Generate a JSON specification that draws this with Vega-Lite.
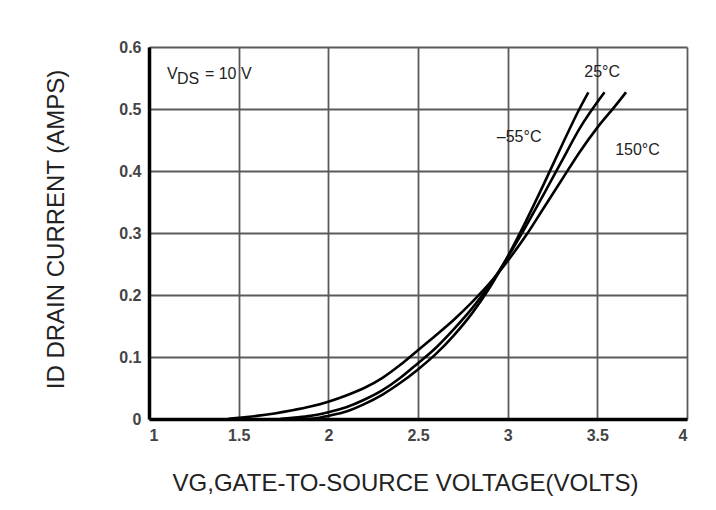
{
  "$schema": "https://vega.github.io/schema/vega-lite/v6.json",
  "width": 538,
  "height": 372,
  "autosize": {"type": "none"},
  "padding": {"left": 149, "top": 47, "right": 29, "bottom": 91},
  "background": "white",
  "config": {
    "view": {"stroke": null},
    "font": "Liberation Sans",
    "axis": {
      "grid": true,
      "gridColor": "#5a5a5a",
      "gridWidth": 1.8,
      "ticks": false,
      "titleFont": "Liberation Sans",
      "titleFontSize": 24,
      "titleFontWeight": "normal",
      "titleColor": "#222",
      "domainColor": "#000",
      "domainWidth": 3.5
    }
  },
  "datasets": {
    "curves": [
      {"temp": "-55", "vgs": 1.87, "id": 0.0},
      {"temp": "-55", "vgs": 1.95, "id": 0.002},
      {"temp": "-55", "vgs": 2.0, "id": 0.005},
      {"temp": "-55", "vgs": 2.1, "id": 0.012},
      {"temp": "-55", "vgs": 2.2, "id": 0.024},
      {"temp": "-55", "vgs": 2.3, "id": 0.039},
      {"temp": "-55", "vgs": 2.4, "id": 0.058},
      {"temp": "-55", "vgs": 2.5, "id": 0.08},
      {"temp": "-55", "vgs": 2.6, "id": 0.105},
      {"temp": "-55", "vgs": 2.7, "id": 0.135},
      {"temp": "-55", "vgs": 2.8, "id": 0.17},
      {"temp": "-55", "vgs": 2.9, "id": 0.212},
      {"temp": "-55", "vgs": 3.0, "id": 0.262},
      {"temp": "-55", "vgs": 3.1, "id": 0.318},
      {"temp": "-55", "vgs": 3.2, "id": 0.378},
      {"temp": "-55", "vgs": 3.3, "id": 0.44},
      {"temp": "-55", "vgs": 3.4, "id": 0.5},
      {"temp": "-55", "vgs": 3.45, "id": 0.527},
      {"temp": "25", "vgs": 1.73, "id": 0.0},
      {"temp": "25", "vgs": 1.8, "id": 0.002},
      {"temp": "25", "vgs": 1.9, "id": 0.005},
      {"temp": "25", "vgs": 2.0, "id": 0.011},
      {"temp": "25", "vgs": 2.1, "id": 0.019},
      {"temp": "25", "vgs": 2.2, "id": 0.031},
      {"temp": "25", "vgs": 2.3, "id": 0.046},
      {"temp": "25", "vgs": 2.4, "id": 0.066},
      {"temp": "25", "vgs": 2.5, "id": 0.09},
      {"temp": "25", "vgs": 2.6, "id": 0.115},
      {"temp": "25", "vgs": 2.7, "id": 0.145},
      {"temp": "25", "vgs": 2.8, "id": 0.178},
      {"temp": "25", "vgs": 2.9, "id": 0.216},
      {"temp": "25", "vgs": 3.0, "id": 0.261},
      {"temp": "25", "vgs": 3.1, "id": 0.31},
      {"temp": "25", "vgs": 3.2, "id": 0.362},
      {"temp": "25", "vgs": 3.3, "id": 0.415},
      {"temp": "25", "vgs": 3.4, "id": 0.468},
      {"temp": "25", "vgs": 3.54, "id": 0.527},
      {"temp": "150", "vgs": 1.44, "id": 0.0},
      {"temp": "150", "vgs": 1.5, "id": 0.002},
      {"temp": "150", "vgs": 1.6, "id": 0.005},
      {"temp": "150", "vgs": 1.7, "id": 0.009},
      {"temp": "150", "vgs": 1.8, "id": 0.014},
      {"temp": "150", "vgs": 1.9, "id": 0.02},
      {"temp": "150", "vgs": 2.0, "id": 0.028},
      {"temp": "150", "vgs": 2.1, "id": 0.038},
      {"temp": "150", "vgs": 2.2, "id": 0.05},
      {"temp": "150", "vgs": 2.3, "id": 0.066},
      {"temp": "150", "vgs": 2.4, "id": 0.087},
      {"temp": "150", "vgs": 2.5, "id": 0.111},
      {"temp": "150", "vgs": 2.6, "id": 0.135},
      {"temp": "150", "vgs": 2.7, "id": 0.16},
      {"temp": "150", "vgs": 2.8, "id": 0.188},
      {"temp": "150", "vgs": 2.9, "id": 0.219},
      {"temp": "150", "vgs": 3.0, "id": 0.255},
      {"temp": "150", "vgs": 3.1, "id": 0.295},
      {"temp": "150", "vgs": 3.2, "id": 0.34},
      {"temp": "150", "vgs": 3.3, "id": 0.385},
      {"temp": "150", "vgs": 3.4, "id": 0.43},
      {"temp": "150", "vgs": 3.5, "id": 0.47},
      {"temp": "150", "vgs": 3.6, "id": 0.505},
      {"temp": "150", "vgs": 3.66, "id": 0.527}
    ],
    "labels": [
      {"label": "25°C", "vgs": 3.527, "id": 0.56},
      {"label": "–55°C", "vgs": 3.064, "id": 0.4556},
      {"label": "150°C", "vgs": 3.724, "id": 0.434}
    ],
    "cond": [
      {"vgs": 1.1, "id": 0.5565}
    ]
  },
  "layer": [
    {
      "data": {"name": "curves"},
      "mark": {"type": "line", "interpolate": "monotone", "stroke": "#000", "strokeWidth": 2.6},
      "encoding": {
        "x": {
          "field": "vgs", "type": "quantitative",
          "scale": {"domain": [1, 4], "nice": false},
          "axis": {
            "values": [1, 1.5, 2, 2.5, 3, 3.5, 4],
            "format": "~g",
            "labelFont": "Liberation Sans",
            "labelFontSize": 16,
            "labelFontWeight": "bold",
            "labelColor": "#444",
            "labelPadding": 16,
            "labelBaseline": "middle",
            "title": "VG,GATE-TO-SOURCE VOLTAGE(VOLTS)",
            "titleX": 256,
            "titleY": 64,
            "titleBaseline": "middle",
            "titleAnchor": "middle"
          }
        },
        "y": {
          "field": "id", "type": "quantitative",
          "scale": {"domain": [0, 0.6], "nice": false},
          "axis": {
            "values": [0, 0.1, 0.2, 0.3, 0.4, 0.5, 0.6],
            "format": "~g",
            "labelFont": "Liberation Sans",
            "labelFontSize": 16,
            "labelFontWeight": "bold",
            "labelColor": "#444",
            "labelPadding": 8,
            "title": "ID DRAIN CURRENT (AMPS)",
            "titleX": -93,
            "titleY": 182,
            "titleAngle": -90,
            "titleBaseline": "middle",
            "titleAnchor": "middle"
          }
        },
        "detail": {"field": "temp", "type": "nominal"}
      }
    },
    {
      "data": {"name": "labels"},
      "mark": {"type": "text", "font": "Liberation Sans", "fontSize": 16, "color": "#222", "align": "center", "baseline": "middle"},
      "encoding": {
        "x": {"field": "vgs", "type": "quantitative"},
        "y": {"field": "id", "type": "quantitative"},
        "text": {"field": "label"}
      }
    },
    {
      "data": {"name": "cond"},
      "mark": {"type": "text", "font": "Liberation Sans", "fontSize": 16, "color": "#222", "align": "left", "baseline": "middle"},
      "encoding": {
        "x": {"field": "vgs", "type": "quantitative"},
        "y": {"field": "id", "type": "quantitative"},
        "text": {"value": "V"}
      }
    },
    {
      "data": {"name": "cond"},
      "mark": {"type": "text", "font": "Liberation Sans", "fontSize": 16, "color": "#222", "align": "left", "baseline": "middle", "dx": 10, "dy": 5},
      "encoding": {
        "x": {"field": "vgs", "type": "quantitative"},
        "y": {"field": "id", "type": "quantitative"},
        "text": {"value": "DS"}
      }
    },
    {
      "data": {"name": "cond"},
      "mark": {"type": "text", "font": "Liberation Sans", "fontSize": 16, "color": "#222", "align": "left", "baseline": "middle", "dx": 38},
      "encoding": {
        "x": {"field": "vgs", "type": "quantitative"},
        "y": {"field": "id", "type": "quantitative"},
        "text": {"value": "= 10 V"}
      }
    }
  ]
}
